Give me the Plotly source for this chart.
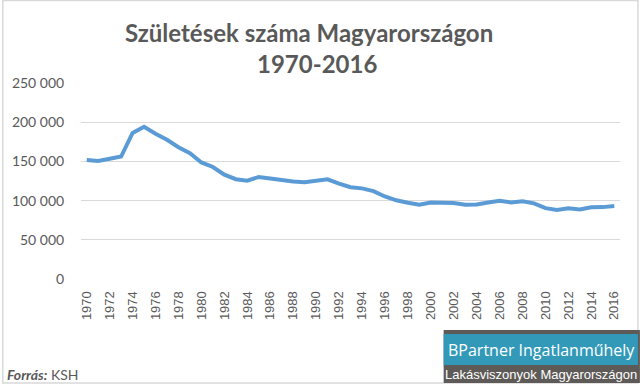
import plotly.graph_objects as go

years = list(range(1970, 2017))
births = [151819, 150640, 153265, 156224, 186288, 194240, 185405, 177574, 168160, 160364,
          148673, 142890, 133008, 127258, 125359, 130200, 128204, 125840, 124296, 123304,
          125679, 127207, 121724, 117033, 115598, 112054, 105272, 100350, 97301, 94645,
          97597, 97047, 96804, 94647, 95137, 97496, 99871, 97613, 99149, 96442,
          90335, 88049, 90269, 88689, 91510, 91690, 93063]
y_ticks = [0, 50000, 100000, 150000, 200000, 250000]
y_tick_labels = ["0", "50 000", "100 000", "150 000", "200 000", "250 000"]
x_ticks = list(range(1970, 2017, 2))
x_tick_labels = [str(v) for v in x_ticks]

title1 = "Születések száma Magyarországon"
title2 = "1970-2016"

W, H = 640, 386
L, R, T, B = 79, 620, 83, 279

def px(x):
    return (x - L) / (R - L)

def py(y):
    return (B - y) / (B - T)

fig = go.Figure()
fig.add_trace(go.Scatter(x=years, y=births, mode="lines",
                         line=dict(color="#5B9BD5", width=4), hoverinfo="x+y"))

grey = "#595959"
fig.update_layout(
    width=W, height=H,
    margin=dict(l=L, r=W - R, t=T, b=H - B),
    paper_bgcolor="white", plot_bgcolor="white",
    showlegend=False,
    xaxis=dict(range=[1969.5, 2016.5], tickvals=x_ticks, ticktext=x_tick_labels,
               tickangle=-90, showgrid=False, zeroline=False, showline=False,
               ticks="outside", ticklen=6, tickcolor="rgba(0,0,0,0)",
               tickfont=dict(family="Liberation Sans, Arial", size=13, color=grey)),
    yaxis=dict(range=[0, 250000], tickvals=y_ticks, ticktext=y_tick_labels,
               showgrid=True, gridcolor="#d9d9d9", gridwidth=1, zeroline=False,
               showline=False, ticks="outside", ticklen=13, tickcolor="rgba(0,0,0,0)",
               tickfont=dict(family="Lato, Open Sans", size=14, color=grey)),
)

shapes = [
    dict(type="rect", xref="paper", yref="paper", x0=px(0.5), x1=px(638), y0=py(0.5), y1=py(383),
         line=dict(color="#d9d9d9", width=1.5), fillcolor="rgba(0,0,0,0)", layer="below"),
    dict(type="rect", xref="paper", yref="paper", x0=px(443), x1=px(640), y0=py(330), y1=py(383),
         line=dict(width=0), fillcolor="#5e5a57"),
    dict(type="rect", xref="paper", yref="paper", x0=px(443), x1=px(638), y0=py(334), y1=py(365),
         line=dict(width=0), fillcolor="#3399b9"),
]
fig.update_layout(shapes=shapes)

ann = [
    dict(text=f"<b>{title1}</b>", x=px(308), y=py(32), font=dict(family="Lato", size=24, color=grey)),
    dict(text=f"<b>{title2}</b>", x=px(316), y=py(63), font=dict(family="Lato", size=24, color=grey)),
    dict(text="<b><i>Forrás:</i></b> KSH", x=px(3), y=py(374), xanchor="left",
         font=dict(family="Lato", size=14, color=grey)),
    dict(text="BPartner Ingatlanműhely", x=px(541), y=py(350),
         font=dict(family="Open Sans", size=16, color="white")),
    dict(text="Lakásviszonyok Magyarországon", x=px(541), y=py(374),
         font=dict(family="Liberation Sans, Arial", size=13, color="white")),
]
for a in ann:
    a.setdefault("xanchor", "center")
    a.update(xref="paper", yref="paper", showarrow=False, yanchor="middle")
fig.update_layout(annotations=ann)

fig.write_html("out.html", config={"displayModeBar": False},
               post_script="document.body.style.margin='0';document.body.style.overflow='hidden';")
